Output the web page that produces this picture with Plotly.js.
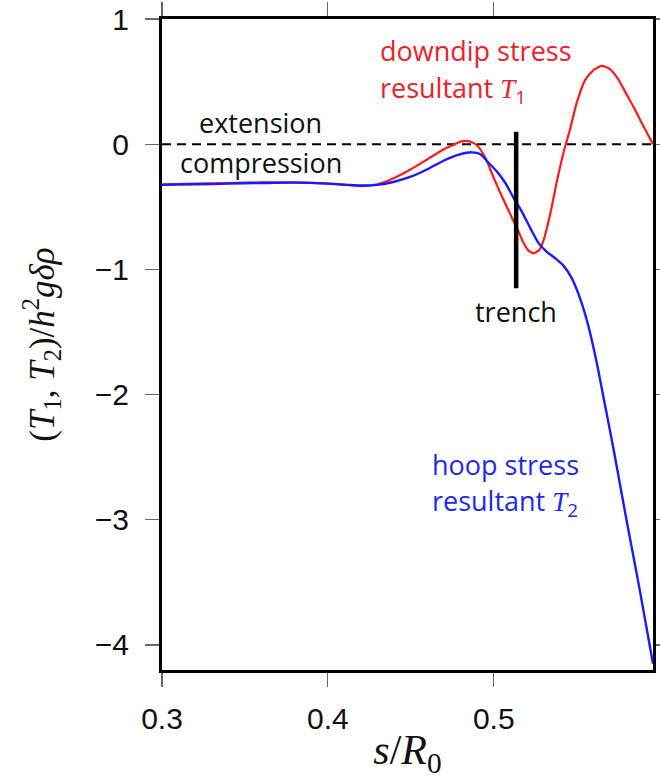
<!DOCTYPE html>
<html>
<head>
<meta charset="utf-8">
<script src="https://cdn.plot.ly/plotly-3.0.1.min.js"></script>
<style>html,body{margin:0;padding:0;background:#fff;}#chart{width:660px;height:779px;}</style>
</head>
<body>
<div id="chart"></div>
<script>
// downdip stress resultant T1
const t1S = [0.3,0.32,0.34,0.36,0.38,0.40,0.41,0.42,0.43,0.44,0.45,0.46,0.47,0.475,0.48,0.485,0.49,0.495,0.5,0.505,0.51,0.515,0.518,0.521,0.524,0.527,0.53,0.534,0.538,0.542,0.546,0.55,0.555,0.56,0.565,0.57,0.575,0.58,0.585,0.59,0.596];
const t1Vals = [-0.32,-0.315,-0.31,-0.305,-0.305,-0.315,-0.325,-0.335,-0.32,-0.27,-0.2,-0.12,-0.04,-0.01,0.02,0.025,-0.01,-0.11,-0.27,-0.42,-0.56,-0.7,-0.79,-0.85,-0.87,-0.85,-0.77,-0.56,-0.3,-0.07,0.12,0.33,0.51,0.59,0.625,0.6,0.52,0.4,0.28,0.15,0.0];
// hoop stress resultant T2
const t2S = [0.3,0.32,0.34,0.36,0.38,0.40,0.42,0.43,0.44,0.45,0.46,0.47,0.48,0.487,0.492,0.497,0.502,0.507,0.512,0.517,0.522,0.527,0.532,0.537,0.542,0.547,0.552,0.557,0.562,0.567,0.572,0.58,0.588,0.596];
const t2Vals = [-0.325,-0.32,-0.315,-0.31,-0.307,-0.315,-0.33,-0.325,-0.3,-0.26,-0.2,-0.13,-0.08,-0.065,-0.08,-0.15,-0.22,-0.31,-0.43,-0.54,-0.67,-0.79,-0.86,-0.91,-0.97,-1.07,-1.23,-1.45,-1.74,-2.08,-2.42,-3.0,-3.56,-4.15];
// trench marker and zero line
const trenchS = [0.5135, 0.5135];
const trenchY = [0.1, -1.15];
const zeroS = [0.3, 0.596];
const zeroY = [0, 0];
const xTicks = [0.3, 0.4, 0.5];
const xTickText = ['0.3', '0.4', '0.5'];
const yTicks = [1, 0, -1, -2, -3, -4];

const serif = 'Liberation Serif, Times New Roman, serif';
const sans = 'Open Sans, sans-serif';
function ital(t){ return '<span style="font-family:' + serif + '"><i>' + t + '</i></span>'; }

const traces = [
  {x: zeroS, y: zeroY, mode: 'lines', line: {color: '#000', width: 2, dash: '9px,6px'}, hoverinfo: 'skip'},
  {x: t1S, y: t1Vals, mode: 'lines', line: {color: '#ff1a1a', width: 2.2, shape: 'spline', smoothing: 0.6}, name: 'T1'},
  {x: t2S, y: t2Vals, mode: 'lines', line: {color: '#1a1aff', width: 2.4, shape: 'spline', smoothing: 0.6}, name: 'T2'},
  {x: trenchS, y: trenchY, mode: 'lines', line: {color: '#000', width: 4.5}, hoverinfo: 'skip'}
];

const axisCommon = {
  showline: true, linecolor: '#000', linewidth: 3, mirror: 'ticks',
  ticks: 'outside', ticklen: 14, tickwidth: 1.2, tickcolor: '#666',
  showgrid: false, zeroline: false,
  tickfont: {family: 'Liberation Sans, Arial, sans-serif', size: 30, color: '#111'}
};

const layout = {
  width: 660, height: 779,
  margin: {l: 162, r: 7, t: 19, b: 109},
  paper_bgcolor: '#fff', plot_bgcolor: '#fff',
  showlegend: false,
  xaxis: Object.assign({}, axisCommon, {
    range: [0.3, 0.596], tickvals: xTicks, ticktext: xTickText, ticklabelstandoff: 6,
    title: {text: ital('s') + '<span style="font-family:' + serif + '">/</span>' + ital('R') + '<sub>0</sub>',
            font: {family: serif, size: 42, color: '#111'}, standoff: 2}
  }),
  yaxis: Object.assign({}, axisCommon, {
    range: [-4.2, 1.0], tickvals: yTicks, ticklabelstandoff: 10,
    title: {text: '(' + ital('T') + '<sub>1</sub>, ' + ital('T') + '<sub>2</sub>)/' + ital('h') + '<sup>2</sup>' + ital('gδρ'),
            font: {family: serif, size: 35, color: '#111'}, standoff: 30}
  }),
  annotations: [
    {x: 0.3595, y: 0.17, text: 'extension', showarrow: false, font: {family: sans, size: 27, color: '#111'}, xanchor: 'center', yanchor: 'middle'},
    {x: 0.3599, y: -0.15, text: 'compression', showarrow: false, font: {family: sans, size: 27, color: '#111'}, xanchor: 'center', yanchor: 'middle'},
    {x: 0.5135, y: -1.34, text: 'trench', showarrow: false, font: {family: sans, size: 27, color: '#111'}, xanchor: 'center', yanchor: 'middle'},
    {x: 0.43, y: 0.745, text: 'downdip stress', showarrow: false, font: {family: sans, size: 27, color: '#f0202a'}, xanchor: 'left', yanchor: 'middle'},
    {x: 0.43, y: 0.44, text: 'resultant ' + ital('T') + '<sub>1</sub>', showarrow: false, font: {family: sans, size: 27, color: '#f0202a'}, xanchor: 'left', yanchor: 'middle'},
    {x: 0.46, y: -2.555, text: 'hoop stress', showarrow: false, font: {family: sans, size: 27, color: '#1a2aee'}, xanchor: 'left', yanchor: 'middle'},
    {x: 0.46, y: -2.86, text: 'resultant ' + ital('T') + '<sub>2</sub>', showarrow: false, font: {family: sans, size: 27, color: '#1a2aee'}, xanchor: 'left', yanchor: 'middle'}
  ]
};
// left edges of the red and blue labels (px 378 and 430)
layout.annotations[3].x = 0.3 + (378 - 162.5) / 1656;
layout.annotations[4].x = layout.annotations[3].x;
layout.annotations[5].x = 0.3 + (430 - 162.5) / 1656;
layout.annotations[6].x = layout.annotations[5].x;

Plotly.newPlot('chart', traces, layout, {displayModeBar: false, staticPlot: true});
</script>
</body>
</html>
